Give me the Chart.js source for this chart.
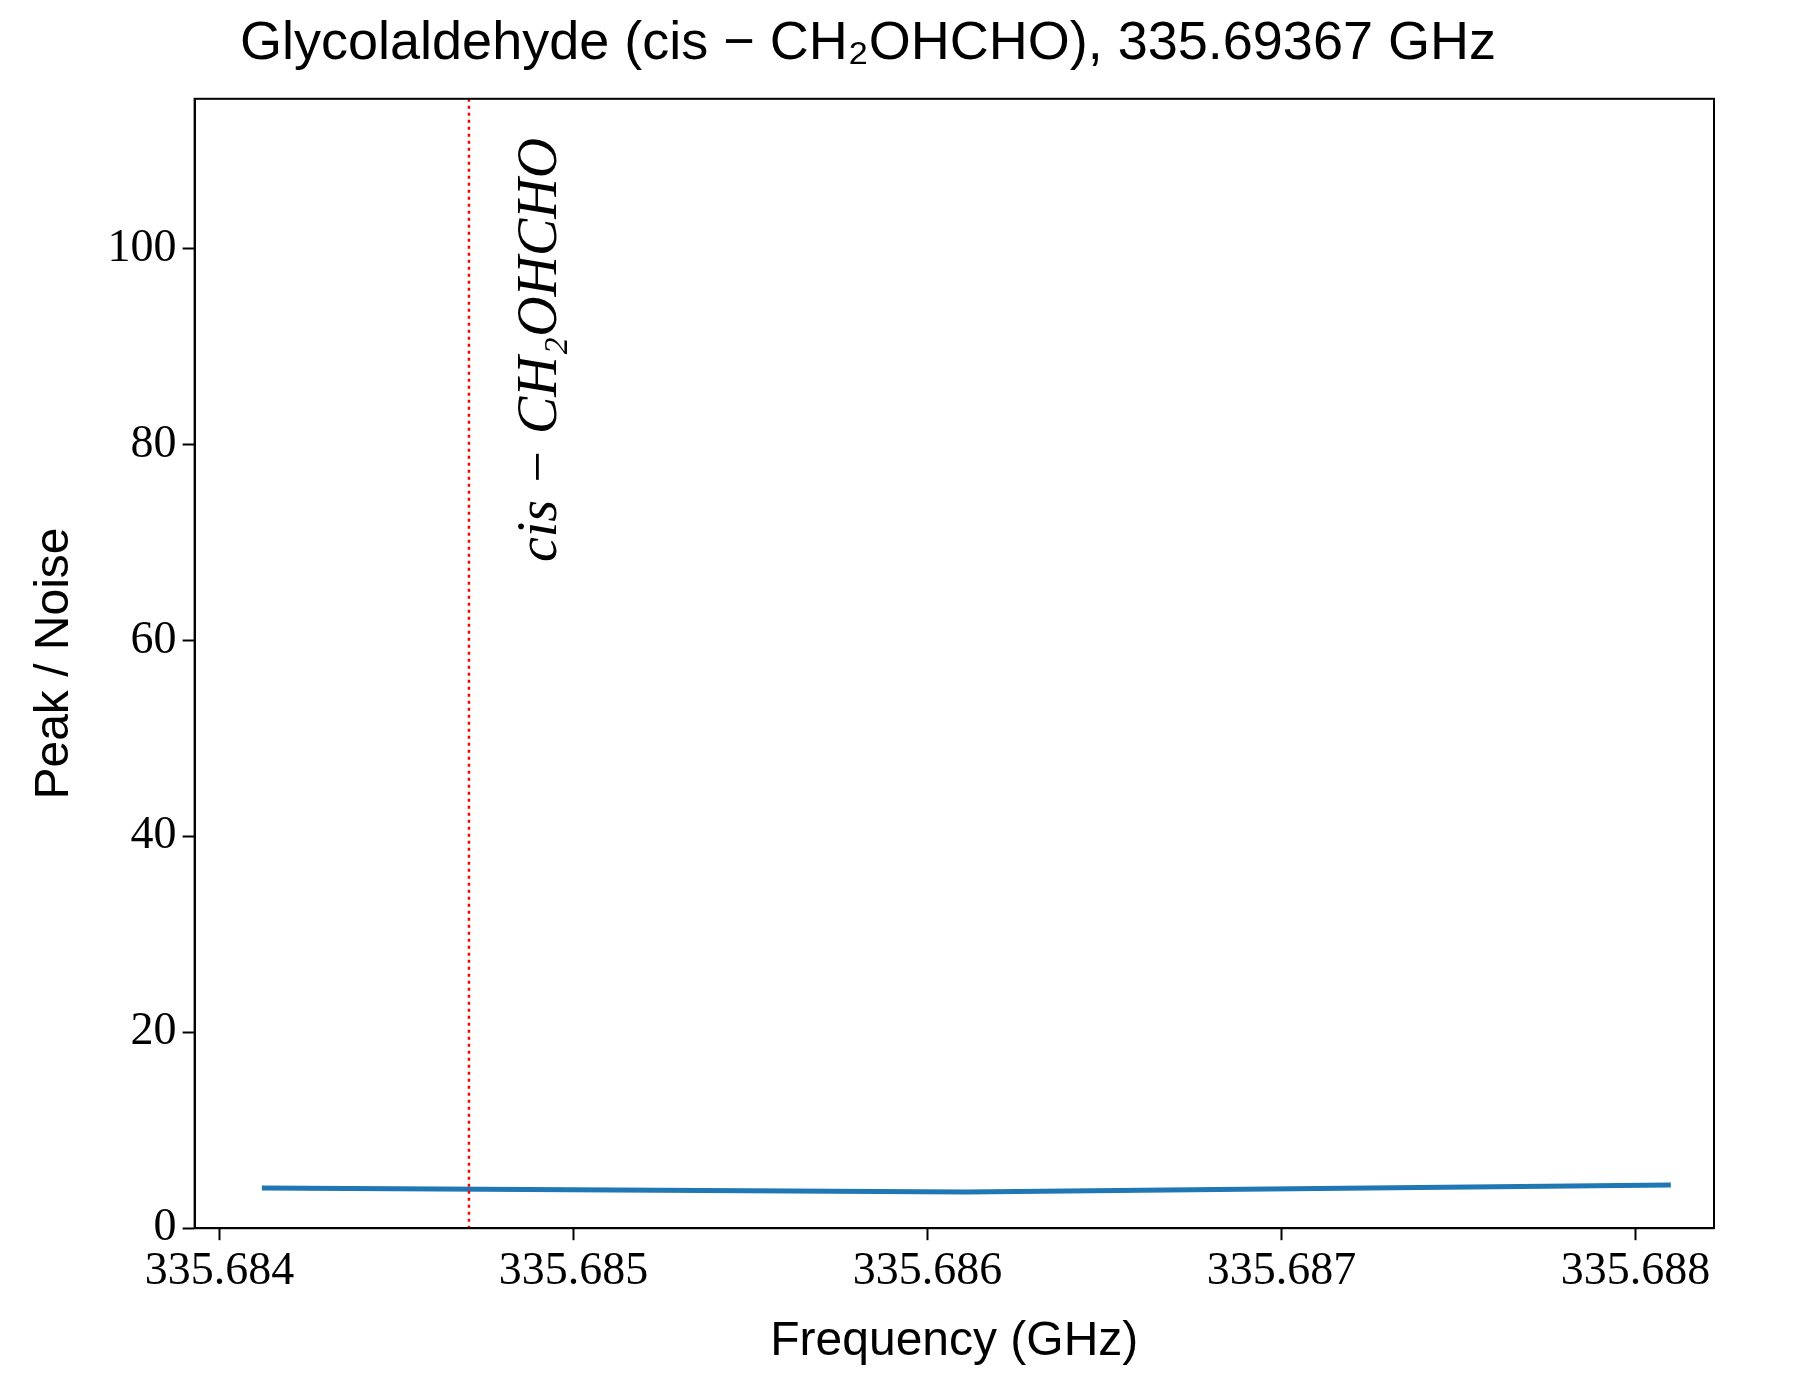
<!DOCTYPE html>
<html><head><meta charset="utf-8">
<script src="https://cdn.jsdelivr.net/npm/chart.js@4/dist/chart.umd.min.js"></script>
<style>html,body{margin:0;padding:0;background:#fff}#w{width:1800px;height:1399px;position:relative}</style>
</head><body><div id="w"><canvas id="c" width="1800" height="1399"></canvas></div>
<script>
const freqs = [335.68412, 335.68611, 335.68810];
const snr = [4.1, 3.7, 4.4];
const lineFreq = 335.684705;
const lineLabel = "cis \u2212 CH\u2082OHCHO";
const xTicks = [335.684, 335.685, 335.686, 335.687, 335.688];
const yTicks = [0, 20, 40, 60, 80, 100];

const plug = {
  id: 'extra',
  afterDatasetsDraw(ch) {
    const ctx = ch.ctx, x = ch.scales.x, y = ch.scales.y, a = ch.chartArea;
    const px = x.getPixelForValue(lineFreq);
    ctx.save();
    ctx.strokeStyle = 'red'; ctx.lineWidth = 2.5; ctx.setLineDash([3, 4]);
    ctx.beginPath(); ctx.moveTo(px, a.top); ctx.lineTo(px, a.bottom); ctx.stroke();
    ctx.setLineDash([]);
    ctx.translate(px + 100, y.getPixelForValue(68));
    ctx.rotate(-Math.PI / 2);
    ctx.fillStyle = '#000'; ctx.font = 'italic 56px "Liberation Serif", serif';
    ctx.textAlign = 'left'; ctx.textBaseline = 'bottom';
    ctx.fillText(lineLabel, 0, 0);
    ctx.restore();
    ctx.save();
    ctx.strokeStyle = '#000'; ctx.lineWidth = 2;
    ctx.strokeRect(a.left, a.top, a.right - a.left, a.bottom - a.top);
    ctx.restore();
  }
};

new Chart(document.getElementById('c'), {
  type: 'line',
  data: { datasets: [{ data: freqs.map((f, i) => ({ x: f, y: snr[i] })), borderColor: '#1f77b4', borderWidth: 5, pointRadius: 0, tension: 0 }] },
  options: {
    responsive: false, animation: false,
    layout: { padding: { left: 22, right: 86, top: 0, bottom: 24 } },
    plugins: {
      legend: { display: false }, tooltip: { enabled: false },
      title: { display: true, text: 'Glycolaldehyde (cis \u2212 CH\u2082OHCHO), 335.69367 GHz', color: '#000',
        font: { family: 'Liberation Sans, Arial, sans-serif', size: 54, weight: 'normal' }, padding: { top: 12, bottom: 22 } }
    },
    scales: {
      x: { type: 'linear', min: 335.68393, max: 335.688222,
        afterBuildTicks: s => { s.ticks = xTicks.map(v => ({ value: v })); },
        grid: { display: true, drawOnChartArea: false, drawTicks: true, tickLength: 12, tickColor: '#000', tickWidth: 2 },
        border: { color: '#000', width: 2 },
        ticks: { color: '#000', font: { family: 'Liberation Serif, serif', size: 46 }, maxRotation: 0, padding: 4, callback: v => v.toFixed(3) },
        title: { display: true, text: 'Frequency (GHz)', color: '#000', font: { family: 'Liberation Sans, sans-serif', size: 48 }, padding: { top: 10 } } },
      y: { min: 0, max: 115.3,
        afterBuildTicks: s => { s.ticks = yTicks.map(v => ({ value: v })); },
        grid: { display: true, drawOnChartArea: false, drawTicks: true, tickLength: 12, tickColor: '#000', tickWidth: 2 },
        border: { color: '#000', width: 2 },
        ticks: { color: '#000', font: { family: 'Liberation Serif, serif', size: 46 }, padding: 6 },
        title: { display: true, text: 'Peak / Noise', color: '#000', font: { family: 'Liberation Sans, sans-serif', size: 48 }, padding: { bottom: 18 } } }
    }
  },
  plugins: [plug]
});
</script></body></html>
